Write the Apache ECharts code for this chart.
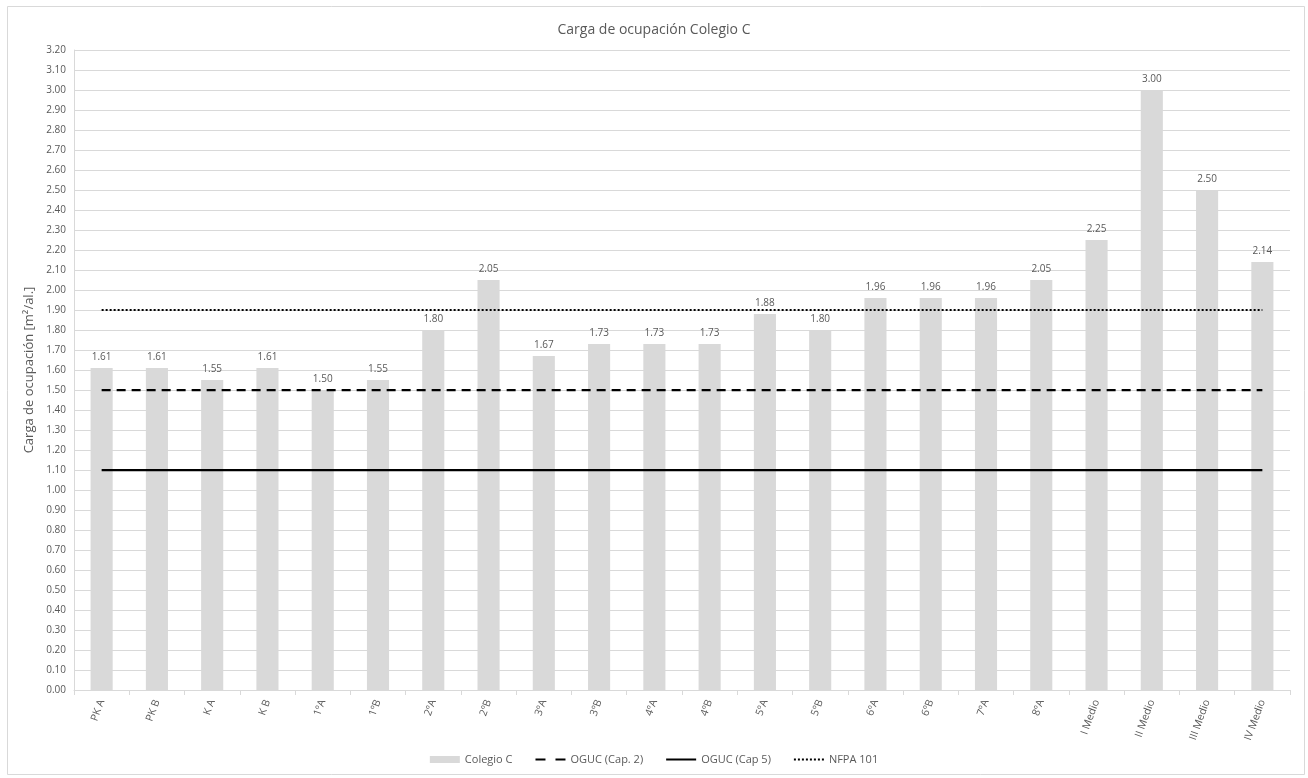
<!DOCTYPE html>
<html>
<head>
<meta charset="utf-8">
<script src="https://cdn.jsdelivr.net/npm/echarts@6/dist/echarts.min.js"></script>
<style>
html,body{margin:0;padding:0;background:#fff;}
#chart{width:1308px;height:778px;}
</style>
</head>
<body>
<div id="chart"></div>
<script>
// Classrooms
const categories = ["PK A","PK B","K A","K B","1ºA","1ºB","2ºA","2ºB","3ºA","3ºB","4ºA","4ºB","5ºA","5ºB","6ºA","6ºB","7ºA","8ºA","I Medio","II Medio","III Medio","IV Medio"];
// Occupancy load per classroom [m²/al.]
const colegioC = [1.61,1.61,1.55,1.61,1.50,1.55,1.80,2.05,1.67,1.73,1.73,1.73,1.88,1.80,1.96,1.96,1.96,2.05,2.25,3.00,2.50,2.14];
// Reference limits
const ogucCap2 = 1.5;
const ogucCap5 = 1.1;
const nfpa101 = 1.9;

const flat = v => categories.map(() => v);
const grey = '#595959';
const font = 'Open Sans, Liberation Sans, sans-serif';
// line-only legend entries (no marker in the middle)
const lineOnly = (name, extra) => Object.assign({ name, itemStyle: { color: 'rgba(0,0,0,0)', borderWidth: 0 } }, extra || {});

const chart = echarts.init(document.getElementById('chart'));
chart.setOption({
  animation: false,
  backgroundColor: '#fff',
  textStyle: { fontFamily: font },
  graphic: [{
    type: 'rect', left: 5, top: 4, shape: { width: 1297, height: 768 },
    style: { fill: 'none', stroke: '#d9d9d9', lineWidth: 1 }, silent: true
  }],
  title: {
    text: 'Carga de ocupación Colegio C',
    left: 'center', top: 18,
    textStyle: { color: grey, fontSize: 14, fontWeight: 'normal', fontFamily: font }
  },
  legend: {
    bottom: 8, left: 'center',
    itemWidth: 30, itemHeight: 7, itemGap: 22,
    textStyle: { color: grey, fontSize: 11, fontFamily: font },
    data: [
      { name: 'Colegio C', icon: 'rect' },
      lineOnly('OGUC (Cap. 2)', { lineStyle: { type: [10, 10] } }),
      lineOnly('OGUC (Cap 5)'),
      lineOnly('NFPA 101')
    ]
  },
  grid: { left: 74, right: 18, top: 50, bottom: 88, containLabel: false },
  xAxis: {
    type: 'category',
    data: categories,
    axisLine: { lineStyle: { color: '#d9d9d9' } },
    axisTick: { show: true, length: 5, lineStyle: { color: '#d9d9d9' } },
    axisLabel: { color: grey, fontSize: 10.5, rotate: 70, margin: 10, interval: 0, fontFamily: font }
  },
  yAxis: {
    type: 'value',
    min: 0, max: 3.2, interval: 0.1,
    name: 'Carga de ocupación [m²/al.]',
    nameLocation: 'middle', nameGap: 36,
    nameTextStyle: { color: grey, fontSize: 13, fontFamily: font },
    axisLine: { show: true, lineStyle: { color: '#d9d9d9' } },
    axisTick: { show: false },
    axisLabel: { color: grey, fontSize: 10, formatter: v => v.toFixed(2), fontFamily: font },
    splitLine: { lineStyle: { color: '#d9d9d9' } }
  },
  series: [
    {
      name: 'Colegio C', type: 'bar', data: colegioC, barWidth: '40%',
      itemStyle: { color: '#d9d9d9' },
      label: { show: true, position: 'top', color: grey, fontSize: 10, distance: 6,
               formatter: p => p.value.toFixed(2), fontFamily: font },
      z: 1
    },
    {
      name: 'OGUC (Cap. 2)', type: 'line', data: flat(ogucCap2), symbol: 'none',
      lineStyle: { color: '#000', width: 2.25, type: [9, 6] }, itemStyle: { color: '#000' }, z: 3
    },
    {
      name: 'OGUC (Cap 5)', type: 'line', data: flat(ogucCap5), symbol: 'none',
      lineStyle: { color: '#000', width: 2.25, type: 'solid' }, itemStyle: { color: '#000' }, z: 3
    },
    {
      name: 'NFPA 101', type: 'line', data: flat(nfpa101), symbol: 'none',
      lineStyle: { color: '#000', width: 2, type: [2, 2] }, itemStyle: { color: '#000' }, z: 3
    }
  ]
});
</script>
</body>
</html>
